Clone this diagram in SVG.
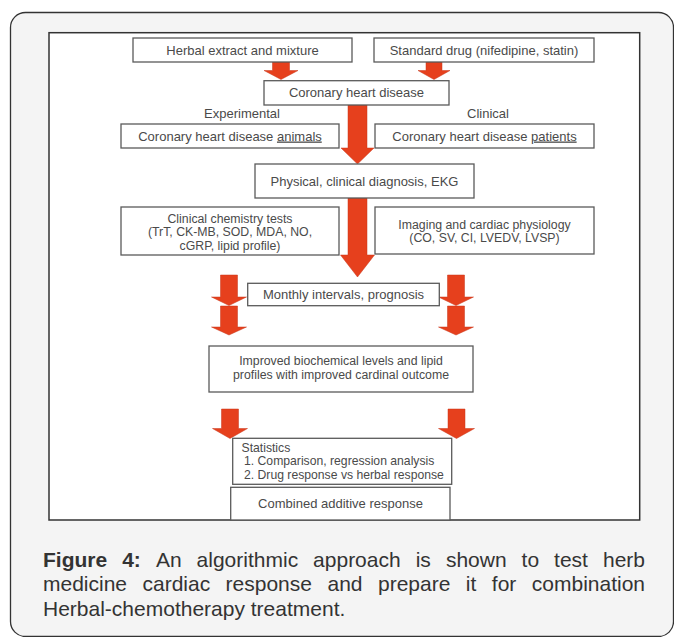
<svg xmlns="http://www.w3.org/2000/svg" width="674" height="637" viewBox="0 0 674 637">
<style>
.box{fill:#ffffff;stroke:#5a5a5a;stroke-width:1.3}
.t{font-family:"Liberation Sans",Arial,sans-serif;font-size:13px;fill:#4a4a4a;text-anchor:middle}
.m{font-size:12.3px}
.s{font-family:"Liberation Sans",Arial,sans-serif;font-size:12.2px;fill:#4a4a4a}
.arrow{fill:#e6401d;stroke:#c8361a;stroke-width:0.5}
.cap{font-family:"Liberation Sans",Arial,sans-serif;font-size:21px;fill:#333333}
</style>
<rect x="10.5" y="12.5" width="663" height="624" rx="15" fill="#f4f4f4" stroke="#333333" stroke-width="1.3"/>
<rect x="49" y="32.7" width="590.7" height="487.3" fill="#ffffff" stroke="#333333" stroke-width="1.5"/>

<g id="connectors">
<polygon class="arrow" points="272.5,62 289.5,62 289.5,70.5 298,70.5 281,79.5 264,70.5 272.5,70.5"/>
<polygon class="arrow" points="426,62 442,62 442,70.5 450,70.5 434,79.5 418,70.5 426,70.5"/>
<polygon class="arrow" points="348,105 367,105 367,148 374,148 357.5,164 341,148 348,148"/>
<polygon class="arrow" points="348,198 367,198 367,255 374.5,255 357.5,277 340.5,255 348,255"/>
<polygon class="arrow" points="220.5,275 237.5,275 237.5,297 246.5,297 229,305.5 211.5,297 220.5,297"/>
<polygon class="arrow" points="220.5,306 237.5,306 237.5,327 246.5,327 229,335 211.5,327 220.5,327"/>
<polygon class="arrow" points="447.5,275 464.5,275 464.5,297 473.5,297 456,305.5 438.5,297 447.5,297"/>
<polygon class="arrow" points="447.5,306 464.5,306 464.5,327 473.5,327 456,335 438.5,327 447.5,327"/>
<polygon class="arrow" points="221.5,409 238.5,409 238.5,428.5 247.5,428.5 230,438.5 212.5,428.5 221.5,428.5"/>
<polygon class="arrow" points="448,409 465,409 465,428.5 474.5,428.5 456.5,438.5 438.5,428.5 448,428.5"/>
</g>

<g id="herbal">
<rect class="box" x="133" y="38" width="219" height="24"/>
<text class="t" x="242.5" y="54.5">Herbal extract and mixture</text>
</g>
<g id="standard-drug">
<rect class="box" x="374" y="38" width="220" height="24"/>
<text class="t" x="484" y="54.5">Standard drug (nifedipine, statin)</text>
</g>
<g id="chd">
<rect class="box" x="264" y="80.7" width="185" height="24.3"/>
<text class="t" x="356.5" y="97">Coronary heart disease</text>
</g>
<g id="labels">
<text class="t" x="242" y="117.5">Experimental</text>
<text class="t" x="488" y="117.5">Clinical</text>
</g>
<g id="chd-animals">
<rect class="box" x="121" y="124" width="218" height="24"/>
<text class="t" x="230" y="140.5">Coronary heart disease <tspan text-decoration="underline">animals</tspan></text>
</g>
<g id="chd-patients">
<rect class="box" x="375" y="124" width="219" height="24"/>
<text class="t" x="484.5" y="140.5">Coronary heart disease <tspan text-decoration="underline">patients</tspan></text>
</g>
<g id="diagnosis">
<rect class="box" x="255" y="164" width="219" height="34"/>
<text class="t" x="364.5" y="186">Physical, clinical diagnosis, EKG</text>
</g>
<g id="chemistry">
<rect class="box" x="121" y="207" width="218" height="48"/>
<text class="t m" x="230" y="222.5">Clinical chemistry tests</text>
<text class="t m" x="230" y="236">(TrT, CK-MB, SOD, MDA, NO,</text>
<text class="t m" x="230" y="249.5">cGRP, lipid profile)</text>
</g>
<g id="imaging">
<rect class="box" x="375" y="207" width="219" height="47"/>
<text class="t m" x="484.5" y="228.8">Imaging and cardiac physiology</text>
<text class="t m" x="484.5" y="242.3">(CO, SV, CI, LVEDV, LVSP)</text>
</g>
<g id="monthly">
<rect class="box" x="247.7" y="283.3" width="191.6" height="22.4"/>
<text class="t" x="343.5" y="298.5">Monthly intervals, prognosis</text>
</g>
<g id="improved">
<rect class="box" x="209" y="346" width="264" height="46"/>
<text class="t m" x="341" y="365">Improved biochemical levels and lipid</text>
<text class="t m" x="341" y="379">profiles with improved cardinal outcome</text>
</g>
<g id="statistics">
<rect class="box" x="232.7" y="438.3" width="219" height="46"/>
<text class="s" x="241.5" y="451.5">Statistics</text>
<text class="s" x="244" y="465.3">1. Comparison, regression analysis</text>
<text class="s" x="244" y="478.8">2. Drug response vs herbal response</text>
</g>
<g id="combined">
<rect class="box" x="230.7" y="487.3" width="219.3" height="32.7"/>
<text class="t" x="340.5" y="507.5">Combined additive response</text>
</g>

<g id="caption" class="cap">
<text y="566.5"><tspan x="43" font-weight="bold">Figure</tspan><tspan x="122.2" font-weight="bold">4:</tspan><tspan x="155.9">An</tspan><tspan x="196.6">algorithmic</tspan><tspan x="313.1">approach</tspan><tspan x="415.7">is</tspan><tspan x="445.9">shown</tspan><tspan x="521.6">to</tspan><tspan x="554.1">test</tspan><tspan x="603">herb</tspan></text>
<text y="591"><tspan x="43">medicine</tspan><tspan x="142.5">cardiac</tspan><tspan x="225.6">response</tspan><tspan x="327.5">and</tspan><tspan x="378">prepare</tspan><tspan x="465.8">it</tspan><tspan x="491.8">for</tspan><tspan x="531.8">combination</tspan></text>
<text x="43" y="615.5">Herbal-chemotherapy treatment.</text>
</g>
</svg>
